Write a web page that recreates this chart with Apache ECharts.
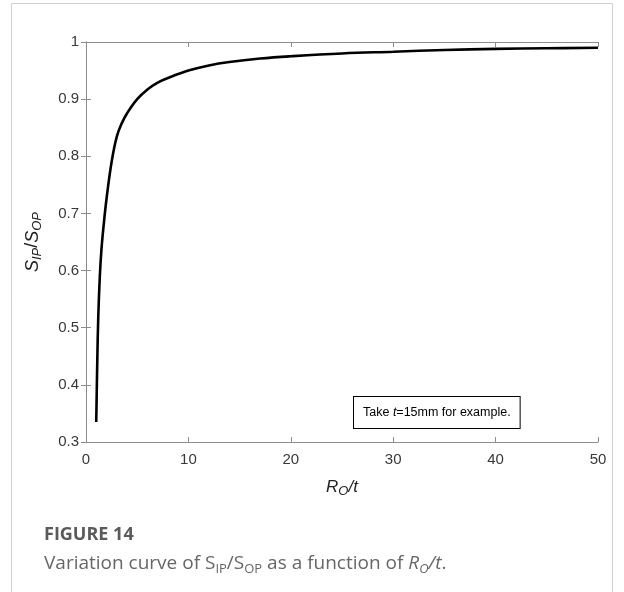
<!DOCTYPE html>
<html>
<head>
<meta charset="utf-8">
<script src="https://cdn.jsdelivr.net/npm/echarts@6/dist/echarts.min.js"></script>
<style>
html,body{margin:0;padding:0;background:#fff;}
#c{width:624px;height:592px;}
</style>
</head>
<body>
<div id="c"></div>
<script>
// Data
const roT = [1, 1.1, 1.2, 1.35, 1.5, 1.7, 2, 2.5, 3, 3.5, 4, 5, 6, 7, 8, 10, 12, 14, 17, 20, 25, 30, 35, 40, 45, 50];
const sRatio = [0.335, 0.44, 0.52, 0.59, 0.635, 0.675, 0.725, 0.79, 0.834, 0.858, 0.875, 0.90, 0.917, 0.929, 0.937, 0.95, 0.959, 0.965, 0.971, 0.975, 0.980, 0.983, 0.986, 0.988, 0.989, 0.990];
const xTicks = [0, 10, 20, 30, 40, 50];
const yTicks = [0.3, 0.4, 0.5, 0.6, 0.7, 0.8, 0.9, 1];

const axisColor = '#8c8c8c';
const labelColor = '#383838';
const font = 'Liberation Sans, Arial, sans-serif';

const chart = echarts.init(document.getElementById('c'), null, {renderer: 'canvas'});

const pts = roT.map((x, i) => [x, sRatio[i]]);

function baseX(show) {
  return {
    type: 'value', min: xTicks[0], max: xTicks[xTicks.length - 1], interval: 10,
    axisLine: {show: true, lineStyle: {color: axisColor, width: 1}},
    axisTick: {show: true, inside: true, length: 5, lineStyle: {color: axisColor}},
    splitLine: {show: false},
    axisLabel: {show: show, color: labelColor, fontSize: 15, fontFamily: font, margin: 10}
  };
}
function baseY(show) {
  return {
    type: 'value', min: yTicks[0], max: yTicks[yTicks.length - 1], interval: 0.1,
    axisLine: {show: true, lineStyle: {color: axisColor, width: 1}},
    axisTick: {show: true, inside: true, length: 5, lineStyle: {color: axisColor}},
    splitLine: {show: false},
    axisLabel: {show: show, color: labelColor, fontSize: 15, fontFamily: font, margin: 7,
      formatter: v => (Math.abs(v - 1) < 1e-9 ? '1' : String(Math.round(v * 10) / 10))}
  };
}

const xMain = Object.assign(baseX(true), {
  position: 'bottom',
  name: '{i|R}{s|O}{n|/}{i|t}',
  nameLocation: 'middle', nameGap: 34,
  nameTextStyle: {
    rich: {
      i: {fontStyle: 'italic', fontSize: 17, fontFamily: font, color: '#222'},
      n: {fontStyle: 'italic', fontSize: 17, fontFamily: font, color: '#222'},
      s: {fontStyle: 'italic', fontSize: 13, fontFamily: font, color: '#222', verticalAlign: 'bottom', padding: [9, 0, 0, 0]}
    }
  }
});
const xTop = Object.assign(baseX(false), {position: 'top'});

const yMain = Object.assign(baseY(true), {
  position: 'left',
  name: '{i|S}{s|IP}{n|/}{i|S}{s|OP}',
  nameLocation: 'middle', nameGap: 42, nameRotate: 90,
  nameTextStyle: {
    rich: {
      i: {fontStyle: 'italic', fontSize: 18, fontFamily: font, color: '#222'},
      n: {fontSize: 18, fontFamily: font, color: '#222'},
      s: {fontStyle: 'italic', fontSize: 13, fontFamily: font, color: '#222', verticalAlign: 'bottom', padding: [10, 0, 0, 0]}
    }
  }
});
const yRight = Object.assign(baseY(false), {position: 'right'});

chart.setOption({
  animation: false,
  backgroundColor: '#fff',
  grid: {left: 86, right: 26, top: 42, bottom: 150, containLabel: false},
  xAxis: [xMain, xTop],
  yAxis: [yMain, yRight],
  series: [{
    type: 'line',
    data: pts,
    xAxisIndex: 0, yAxisIndex: 0,
    smooth: 0.4,
    showSymbol: false,
    lineStyle: {color: '#000', width: 2.6}
  }],
  graphic: [
    {type: 'rect', shape: {x: 11.5, y: 3.5, width: 601, height: 620}, style: {fill: 'none', stroke: '#cfcfcf', lineWidth: 1}, silent: true},
    {type: 'text', left: 353, top: 396,
      style: {
        text: '{n|Take }{i|t}{n|=15mm for example.}',
        rich: {
          n: {fontSize: 12.5, fontFamily: font, fill: '#000'},
          i: {fontSize: 12.5, fontFamily: font, fontStyle: 'italic', fill: '#000'}
        },
        backgroundColor: '#fff', borderColor: '#000', borderWidth: 1,
        padding: [9, 9, 9, 9]
      }
    },
    {type: 'text', left: 44, top: 526,
      style: {text: 'FIGURE 14', fontSize: 18, fontWeight: 'bold', fontFamily: 'Open Sans, sans-serif', fill: '#5a5a5a'}
    },
    {type: 'text', left: 44, top: 554,
      style: {
        text: '{n|Variation curve of S}{s|IP}{n|/S}{s|OP}{n| as a function of }{i|R}{si|O}{i|/t}{n|.}',
        rich: {
          n: {fontSize: 19, fontFamily: 'Open Sans, sans-serif', fill: '#666'},
          i: {fontSize: 19, fontFamily: 'Open Sans, sans-serif', fontStyle: 'italic', fill: '#666'},
          s: {fontSize: 13, fontFamily: 'Open Sans, sans-serif', fill: '#666', verticalAlign: 'bottom', padding: [11, 0, 0, 0]},
          si: {fontSize: 13, fontFamily: 'Open Sans, sans-serif', fontStyle: 'italic', fill: '#666', verticalAlign: 'bottom', padding: [11, 0, 0, 0]}
        }
      }
    }
  ]
});
</script>
</body>
</html>
